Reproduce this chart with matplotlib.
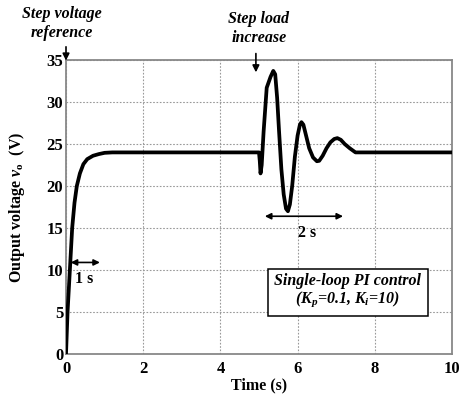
import matplotlib.pyplot as plt

# output voltage
time_s = [0, 0.02, 0.04, 0.07, 0.1, 0.13, 0.16, 0.22, 0.28, 0.36, 0.45, 0.55, 0.7, 0.85, 1.0, 1.2,
          5.0, 5.02, 5.04, 5.07, 5.12, 5.2, 5.3, 5.37, 5.42, 5.47, 5.52, 5.58, 5.64, 5.7, 5.75,
          5.8, 5.86, 5.93, 6.0, 6.06, 6.1, 6.15, 6.22, 6.3, 6.4, 6.5, 6.56, 6.65, 6.75, 6.85,
          6.95, 7.03, 7.12, 7.22, 7.35, 7.5, 10.0]
vout = [0, 2.5, 5, 7.5, 10, 12.5, 15, 18, 20, 21.5, 22.6, 23.2, 23.6, 23.8, 23.95, 24,
        24, 23.0, 21.5, 22.5, 26.5, 31.7, 33.0, 33.7, 33.3, 30.5, 26.5, 22.0, 19.0, 17.3, 17.0,
        17.8, 20.0, 23.5, 26.0, 27.3, 27.6, 27.3, 26.0, 24.5, 23.4, 22.95, 23.0, 23.6, 24.5, 25.2,
        25.6, 25.7, 25.5, 25.0, 24.5, 24.0, 24.0]

xticks = [0, 2, 4, 6, 8, 10]
yticks = [0, 5, 10, 15, 20, 25, 30, 35]

plt.rcParams['font.family'] = 'Liberation Serif'
plt.rcParams['font.weight'] = 'bold'
plt.rcParams['mathtext.fontset'] = 'custom'
plt.rcParams['mathtext.it'] = 'Liberation Serif:italic:bold'
plt.rcParams['mathtext.rm'] = 'Liberation Serif:bold'
plt.rcParams['mathtext.bf'] = 'Liberation Serif:bold'

fig = plt.figure(figsize=(4.59, 3.94), dpi=100)
ax = fig.add_axes([0.1438, 0.1015, 0.8409, 0.7462])

ax.plot(time_s, vout, color='black', linewidth=2.7, solid_joinstyle='round', zorder=3)

ax.set_xlim(0, 10)
ax.set_ylim(0, 35)
ax.set_xticks(xticks)
ax.set_yticks(yticks)
ax.set_xticklabels([str(t) for t in xticks], fontsize=12, fontweight='bold')
ax.set_yticklabels([str(t) for t in yticks], fontsize=12, fontweight='bold')
ax.tick_params(axis='x', length=0, pad=5)
ax.tick_params(axis='y', length=0, pad=2)
ax.grid(True, linestyle=(0, (1.5, 1.5)), color='#999999', linewidth=0.8)
for s in ax.spines.values():
    s.set_color('#888888')
    s.set_linewidth(1.3)

ax.set_xlabel('Time (s)', fontsize=11.5, fontweight='bold', labelpad=0)
ax.set_ylabel(r'Output voltage $\mathit{v}_\mathrm{o}$  (V)', fontsize=11.5, fontweight='bold', labelpad=14)

# annotations
ax.annotate('', xy=(0.0, 34.6), xytext=(0.0, 36.9), annotation_clip=False,
            arrowprops=dict(arrowstyle='-|>', color='black', lw=1.2, mutation_scale=10))
ax.text(-0.1, 39.3, 'Step voltage\nreference', ha='center', va='center', fontsize=11.5,
        fontweight='bold', style='italic', linespacing=1.25, clip_on=False)

ax.annotate('', xy=(4.92, 33.2), xytext=(4.92, 36.1), annotation_clip=False,
            arrowprops=dict(arrowstyle='-|>', color='black', lw=1.2, mutation_scale=10))
ax.text(5.0, 38.8, 'Step load\nincrease', ha='center', va='center', fontsize=11.5,
        fontweight='bold', style='italic', linespacing=1.25, clip_on=False)

ax.annotate('', xy=(0.05, 10.9), xytext=(0.95, 10.9),
            arrowprops=dict(arrowstyle='<|-|>', color='black', lw=1.2, mutation_scale=9))
ax.text(0.47, 8.9, '1 s', ha='center', va='center', fontsize=11.5, fontweight='bold')

ax.annotate('', xy=(5.08, 16.4), xytext=(7.25, 16.4),
            arrowprops=dict(arrowstyle='<|-|>', color='black', lw=1.2, mutation_scale=9))
ax.text(6.25, 14.4, '2 s', ha='center', va='center', fontsize=11.5, fontweight='bold')

ax.text(7.3, 7.5, 'Single-loop PI control\n' + r'($\mathit{K_p}$=0.1, $\mathit{K_i}$=10)',
        ha='center', va='center', fontsize=11.5, fontweight='bold', style='italic', linespacing=1.1,
        bbox=dict(boxstyle='square,pad=0.4', facecolor='white', edgecolor='black', linewidth=1.1),
        zorder=5)

fig.savefig('out.png', dpi=100)
